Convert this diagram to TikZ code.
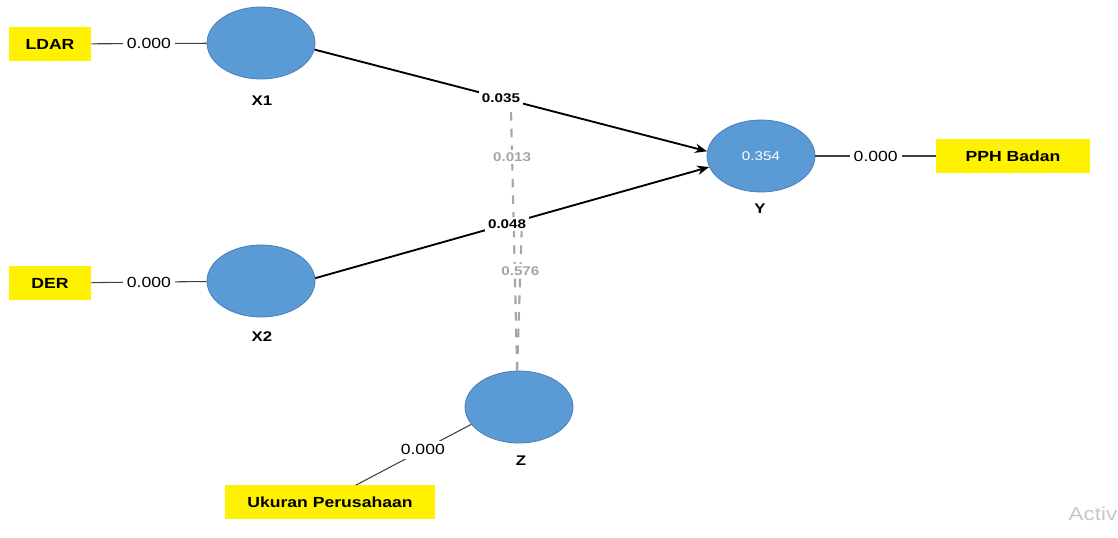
\documentclass[tikz,border=0pt]{standalone}
\usepackage{fontspec}
\setmainfont{Liberation Sans}[FakeStretch=1.2]
\usetikzlibrary{
	shapes,
	calc,
	arrows.meta}
\definecolor{latentfill}{HTML}{5B9BD5}
\definecolor{latentedge}{HTML}{4A7EBB}
\definecolor{modgray}{HTML}{A6A6A6}
\definecolor{linegray}{HTML}{404040}

\begin{document}
\begin{tikzpicture}[x=0.75pt,y=-0.75pt,every text node part/.style={align=center}]
  \tikzstyle{latent}=[ellipse,draw=latentedge,fill=latentfill,line width=0.6pt,
    minimum width=81pt,minimum height=54pt,inner sep=0pt]
  \tikzstyle{indicator}=[fill=yellow,minimum height=25pt,inner sep=0pt,
    font=\fontsize{11}{13}\selectfont\bfseries]
  \tikzstyle{outer}=[draw=linegray,line width=0.8pt]
  \tikzstyle{loading}=[fill=white,inner sep=3pt,font=\fontsize{11}{13}\selectfont]
  \tikzstyle{effect}=[draw=black,line width=1.4pt,-{Stealth[length=9pt,width=7pt]}]
  \tikzstyle{coef}=[fill=white,inner sep=2pt,font=\fontsize{9.5}{11}\selectfont\bfseries]
  \tikzstyle{moder}=[draw=modgray,line width=1.6pt,dash pattern=on 6.5pt off 6pt]
  \tikzstyle{modcoef}=[coef,text=modgray]
  \tikzstyle{varname}=[font=\fontsize{10.5}{12}\selectfont\bfseries]

  \useasboundingbox (0,0) rectangle (1118,537);

  \node [latent] (x1) at (261,43) {};
  \node [latent] (x2) at (261,281) {};
  \node [latent,text=white,font=\fontsize{9.5}{11}\selectfont] (y) at (761,156) {0.354};
  \node [latent] (z) at (519,407) {};

  \node [varname] (x1name) at (262,101) {X1};
  \node [varname] (x2name) at (262,337) {X2};
  \node [varname] (yname) at (760,209) {Y};
  \node [varname] (zname) at (521,461) {Z};

  \node [indicator,minimum width=61.5pt] (ldar) at (50,44) {LDAR};
  \node [indicator,minimum width=61.5pt] (der) at (50,283) {DER};
  \node [indicator,minimum width=115pt] (pph) at (1013,156) {PPH Badan};
  \node [indicator,minimum width=158pt] (ukuran) at (330,502) {Ukuran Perusahaan};

  \draw [outer] (ldar) -- node[loading] (l1) {0.000} (x1);
  \draw [outer] (der) -- node[loading] (l2) {0.000} (x2);
  \draw [outer] (y) -- node[loading] (l3) {0.000} (pph);
  \draw [outer] (z.200) -- node[loading,pos=0.42] (l4) {0.000} ($(ukuran.north)+(26,0)$);

  \path (x1.-7) -- (y.175) coordinate[pos=0.5] (m1);
  \path (x2.3) -- (y.192) coordinate[pos=0.525] (m2);
  \draw [moder] (z.93) -- node[modcoef,pos=0.79] (c3) {0.013} (m1);
  \draw [moder] (z.93) -- node[modcoef,pos=0.66] (c4) {0.576} (m2);

  \draw [effect] (x1.-7) -- node[coef,pos=0.475] (c1) {0.035} (y.175);
  \draw [effect] (x2.3) -- node[coef,pos=0.487] (c2) {0.048} (y.192);

  \node [anchor=west,text=black!22,font=\fontsize{14}{16}\selectfont] (mark) at (1064,514) {Activ};
\end{tikzpicture}
\end{document}
